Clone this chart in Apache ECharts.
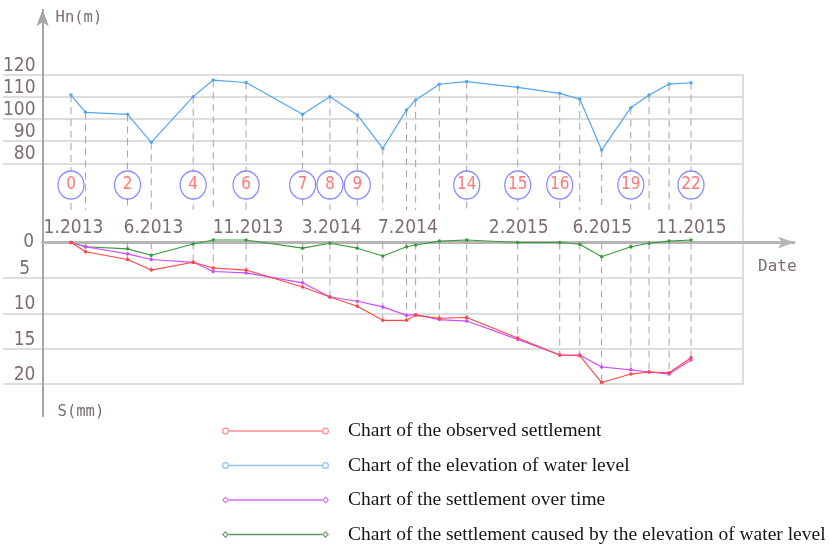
<!DOCTYPE html>
<html>
<head>
<meta charset="utf-8">
<script src="https://cdn.jsdelivr.net/npm/echarts@6/dist/echarts.min.js"></script>
<style>
  html, body { margin: 0; padding: 0; background: #fff; }
  #chart { width: 831px; height: 548px; }
</style>
</head>
<body>
<div id="chart"></div>
<script>
// Survey points 0..22, time in months counted from the first survey (1.2013)
const pointTime = [0, 0.8, 3.1, 4.4, 6.7, 7.8, 9.6, 12.7, 14.2, 15.7, 17.1, 18.4,
  18.9, 20.2, 21.7, 24.5, 26.8, 27.9, 29.1, 30.7, 31.7, 32.8, 34.0];

// Elevation of water level Hn (m)
const waterLevel = [110.9, 103.1, 102.2, 89.5, 110.2, 117.7, 116.6, 102.2, 110.2, 101.9, 86.8, 104.1,
  108.7, 115.8, 117.0, 114.4, 111.7, 109.1, 86.0, 105.2, 110.9, 115.9, 116.5];

// Settlement S (mm), positive downwards
const observedSettlement = [0, 1.3, 2.4, 3.9, 2.8, 3.6, 3.9, 6.3, 7.7, 9.0, 11.0, 11.0,
  10.3, 10.7, 10.6, 13.5, 15.9, 16.0, 19.8, 18.6, 18.3, 18.4, 16.3];
const settlementOverTime = [0, 0.6, 1.6, 2.4, 2.8, 4.1, 4.3, 5.7, 7.7, 8.3, 9.1, 10.3,
  10.2, 10.9, 11.1, 13.7, 15.9, 15.9, 17.6, 18.0, 18.3, 18.6, 16.6];
const settlementByWater = [0, 0.6, 0.9, 1.8, 0.2, -0.35, -0.35, 0.8, 0.1, 0.8, 1.9, 0.6,
  0.35, -0.2, -0.35, 0, 0, 0.25, 2.0, 0.6, 0.1, -0.2, -0.35];

// Points carrying a numbered circle, and points carrying a date
const labelledPoints = [0, 2, 4, 6, 7, 8, 9, 14, 15, 16, 19, 22];
const datePoints = [0, 3, 6, 8, 11, 15, 18, 22];
const dateLabels = ['1.2013', '6.2013', '11.2013', '3.2014', '7.2014', '2.2015', '6.2015', '11.2015'];

// Axis ticks
const hnTicks = [80, 90, 100, 110, 120];
const sZeroTick = [0];
const sTicks = [5, 10, 15, 20];

const seriesNames = [
  'Chart of the observed settlement',
  'Chart of the elevation of water level',
  'Chart of the settlement over time',
  'Chart of the settlement caused by the elevation of water level'
];

// ---- layout (pixels) ----
const W = 831, H = 548;
const FRAME = { left: 3, right: 743, top: 75, bottom: 384 };       // ruled frame
const AXES = { x: 40, top: 10, bottom: 416, right: 794, zeroY: 242.5 }; // arrowed axes
const T_PIX = { x0: 71, x1: 691, t1: 34 };                          // t=0 and t=34 positions
const CIRCLE_ROW_Y = 185;   // numbered circles
const DASH_END_Y = 210;     // lower end of the upper guide lines
const DATE_ROW_Y = 226;     // centre of the date labels

// scale helpers (pixel -> axis value) used to size the axis extents
const pxPerT = (T_PIX.x1 - T_PIX.x0) / T_PIX.t1;
const tAt = x => (x - T_PIX.x0) / pxPerT;
const HN_TOP = 120, HN_BOTTOM = -20;
const hnAt = y => HN_TOP - (y - FRAME.top) * (HN_TOP - HN_BOTTOM) / (FRAME.bottom - FRAME.top);
const S_BOTTOM = 20;
const sAt = y => (y - AXES.zeroY) * S_BOTTOM / (FRAME.bottom - AXES.zeroY);

const NARROW = "'Liberation Sans Narrow', 'DejaVu Sans Condensed', sans-serif";
const MONO = "'DejaVu Sans Mono', monospace";
const TEXT_GREY = '#7d6d6d';
const GRID_GREY = '#d2d2d2';

const zip = (xs, ys) => xs.map((x, i) => [x, ys[i]]);

// legend icons: a line with a hollow marker at each end (107 x 7 box)
function ring(cx) {
  return `M${cx - 3.5},3.5 A3.5,3.5 0 1,1 ${cx + 3.5},3.5 A3.5,3.5 0 1,1 ${cx - 3.5},3.5 Z ` +
         `M${cx - 2.2},3.5 A2.2,2.2 0 1,0 ${cx + 2.2},3.5 A2.2,2.2 0 1,0 ${cx - 2.2},3.5 Z `;
}
function diamond(cx) {
  return `M${cx - 3.5},3.5 L${cx},0 L${cx + 3.5},3.5 L${cx},7 Z ` +
         `M${cx - 2},3.5 L${cx},5.5 L${cx + 2},3.5 L${cx},1.5 Z `;
}
const bar = 'M7,2.75 L100,2.75 L100,4.25 L7,4.25 Z';
const circleIcon = 'path://' + ring(3.5) + ring(103.5) + bar;
const diamondIcon = 'path://' + diamond(3.5) + diamond(103.5) + bar;
const legendIcons = [circleIcon, circleIcon, diamondIcon, diamondIcon];
const legendColors = ['#ff9090', '#8fc3f3', '#d468f2', '#5f955f'];

const lineColors = { observed: '#ff4646', water: '#54a6ee', overTime: '#cc4cff', byWater: '#3d993d' };

function guideLine(params, api) {
  const a = api.coord([api.value(0), api.value(1)]);
  const b = api.coord([api.value(0), api.value(2)]);
  return {
    type: 'line',
    shape: { x1: a[0], y1: a[1], x2: b[0], y2: b[1] },
    style: { stroke: '#a4a4a4', lineWidth: 1, lineDash: [7, 5] }
  };
}

const upperGuides = pointTime.map((t, i) => [t, waterLevel[i], hnAt(DASH_END_Y)]);
const lowerGuides = pointTime.map((t, i) =>
  [t, 0, Math.max(observedSettlement[i], settlementOverTime[i])]);

// tick labels sit just above their ruled line
const raisedLabel = {
  color: TEXT_GREY, fontFamily: NARROW, fontSize: 19,
  verticalAlign: 'bottom', lineHeight: 18, padding: [0, 0, 0, 0]
};
const arrowLine = {
  show: true, onZero: false, symbol: ['none', 'arrow'], symbolSize: [9, 16],
  lineStyle: { color: '#a6a6a6', width: 2 }
};

const chart = echarts.init(document.getElementById('chart'), null, { renderer: 'canvas' });

const option = {
  animation: false,
  backgroundColor: '#fff',
  grid: [
    { left: FRAME.left, right: W - FRAME.right, top: FRAME.top, bottom: H - FRAME.bottom },
    { left: AXES.x, right: W - AXES.right, top: AXES.top, bottom: H - AXES.bottom }
  ],
  xAxis: [
    { type: 'value', gridIndex: 0, min: tAt(FRAME.left), max: tAt(FRAME.right), show: false },
    {
      type: 'value', gridIndex: 1, min: tAt(AXES.x), max: tAt(AXES.right),
      axisLine: {
        show: true, onZero: true, onZeroAxisIndex: 3,
        symbol: ['none', 'arrow'], symbolSize: [9, 16],
        lineStyle: { color: '#b6b6b6', width: 3 }
      },
      axisTick: { show: false },
      splitLine: { show: false },
      axisLabel: {
        // the labels are measured from the lower edge of the axes box
        inside: true, margin: AXES.bottom - DATE_ROW_Y - 12,
        customValues: datePoints.map(i => pointTime[i]),
        showMinLabel: true, showMaxLabel: true,
        formatter: v => dateLabels[datePoints.findIndex(i => pointTime[i] === v)],
        color: TEXT_GREY, fontFamily: NARROW, fontSize: 19
      },
      name: 'Date', nameLocation: 'end', nameGap: -36,
      nameTextStyle: {
        color: TEXT_GREY, fontFamily: MONO, fontSize: 16,
        align: 'left', verticalAlign: 'top', lineHeight: 15, padding: [17, 0, 0, 0]
      }
    }
  ],
  yAxis: [
    { // 0: water level, ruled frame (its axis line is the right border)
      type: 'value', gridIndex: 0, min: HN_BOTTOM, max: HN_TOP, position: 'right',
      axisLine: { show: true, onZero: false, lineStyle: { color: GRID_GREY, width: 1.5 } },
      axisTick: { show: false, customValues: hnTicks },
      axisLabel: { show: false },
      splitLine: { show: true, lineStyle: { color: GRID_GREY, width: 1.5 } }
    },
    { // 1: settlement, ruled frame
      type: 'value', gridIndex: 0, inverse: true, min: sAt(FRAME.top), max: S_BOTTOM, position: 'left',
      axisLine: { show: false, onZero: false },
      axisTick: { show: false, customValues: sTicks },
      axisLabel: { show: false },
      splitLine: { show: true, lineStyle: { color: GRID_GREY, width: 1.5 } }
    },
    { // 2: water level, arrowed axis with labels
      type: 'value', gridIndex: 1, min: hnAt(AXES.bottom), max: hnAt(AXES.top), position: 'left',
      axisLine: arrowLine,
      axisTick: { show: false },
      splitLine: { show: false },
      axisLabel: Object.assign({
        customValues: hnTicks, margin: 7, align: 'right',
        showMinLabel: true, showMaxLabel: true, hideOverlap: false
      }, raisedLabel),
      name: 'Hn(m)', nameLocation: 'end', nameGap: -8,
      nameTextStyle: {
        color: TEXT_GREY, fontFamily: MONO, fontSize: 15.5,
        align: 'left', verticalAlign: 'middle', padding: [0, 0, 0, 13]
      }
    },
    { // 3: settlement, arrowed axis with labels
      type: 'value', gridIndex: 1, inverse: true, min: sAt(AXES.top), max: sAt(AXES.bottom), position: 'left',
      axisLine: arrowLine,
      axisTick: { show: false },
      splitLine: { show: false },
      axisLabel: Object.assign({
        customValues: sTicks, margin: 18, align: 'center',
        showMinLabel: true, showMaxLabel: true, hideOverlap: false
      }, raisedLabel),
      name: 'S(mm)', nameLocation: 'end', nameGap: -4,
      nameTextStyle: {
        color: TEXT_GREY, fontFamily: MONO, fontSize: 15.5,
        align: 'left', verticalAlign: 'middle', padding: [0, 0, 0, 15]
      }
    },
    { // 4: settlement zero label, centred on the date axis
      type: 'value', gridIndex: 1, inverse: true, min: sAt(AXES.top), max: sAt(AXES.bottom), position: 'left',
      axisLine: { show: false, onZero: false },
      axisTick: { show: false },
      splitLine: { show: false },
      axisLabel: {
        customValues: sZeroTick, margin: 14, align: 'center',
        showMinLabel: true, showMaxLabel: true,
        color: TEXT_GREY, fontFamily: NARROW, fontSize: 19, verticalAlign: 'middle'
      }
    }
  ],
  legend: {
    orient: 'vertical', left: 222, top: 420, padding: 0,
    itemWidth: 107, itemHeight: 7, itemGap: 12.5,
    selectedMode: false,
    textStyle: { fontFamily: "'Liberation Serif', 'Times New Roman', serif", fontSize: 19.5,
      color: '#161616', lineHeight: 22, padding: [0, 0, 0, 14] },
    data: seriesNames.map((name, i) => ({
      name, icon: legendIcons[i], itemStyle: { color: legendColors[i], borderWidth: 0 }
    }))
  },
  series: [
    {
      type: 'custom', xAxisIndex: 0, yAxisIndex: 0, silent: true, z: 1,
      encode: { x: 0, y: [1, 2] }, data: upperGuides, renderItem: guideLine
    },
    {
      type: 'custom', xAxisIndex: 0, yAxisIndex: 1, silent: true, z: 1,
      encode: { x: 0, y: [1, 2] }, data: lowerGuides, renderItem: guideLine
    },
    {
      name: seriesNames[1], type: 'line', xAxisIndex: 0, yAxisIndex: 0, z: 3,
      data: zip(pointTime, waterLevel),
      symbol: 'circle', symbolSize: 3.5, showSymbol: true,
      lineStyle: { color: lineColors.water, width: 1.2 }, itemStyle: { color: lineColors.water }
    },
    {
      name: seriesNames[3], type: 'line', xAxisIndex: 0, yAxisIndex: 1, z: 3,
      data: zip(pointTime, settlementByWater),
      symbol: 'circle', symbolSize: 3.5, showSymbol: true,
      lineStyle: { color: lineColors.byWater, width: 1.1 }, itemStyle: { color: lineColors.byWater }
    },
    {
      name: seriesNames[2], type: 'line', xAxisIndex: 0, yAxisIndex: 1, z: 3,
      data: zip(pointTime, settlementOverTime),
      symbol: 'circle', symbolSize: 3.5, showSymbol: true,
      lineStyle: { color: lineColors.overTime, width: 1.2 }, itemStyle: { color: lineColors.overTime }
    },
    {
      name: seriesNames[0], type: 'line', xAxisIndex: 0, yAxisIndex: 1, z: 4,
      data: zip(pointTime, observedSettlement),
      symbol: 'circle', symbolSize: 3.5, showSymbol: true,
      lineStyle: { color: lineColors.observed, width: 1.1 }, itemStyle: { color: lineColors.observed }
    },
    {
      type: 'scatter', xAxisIndex: 0, yAxisIndex: 0, silent: true, z: 5,
      symbol: 'circle', symbolSize: [26, 28],
      data: labelledPoints.map(i => [pointTime[i], hnAt(CIRCLE_ROW_Y), i]),
      itemStyle: { color: '#fff', borderColor: '#6e6eff', borderWidth: 1.3 },
      label: {
        show: true, position: 'inside', formatter: p => String(p.value[2]),
        color: '#ff5656', fontFamily: NARROW, fontSize: 17
      }
    }
  ]
};

chart.setOption(option);
</script>
</body>
</html>
